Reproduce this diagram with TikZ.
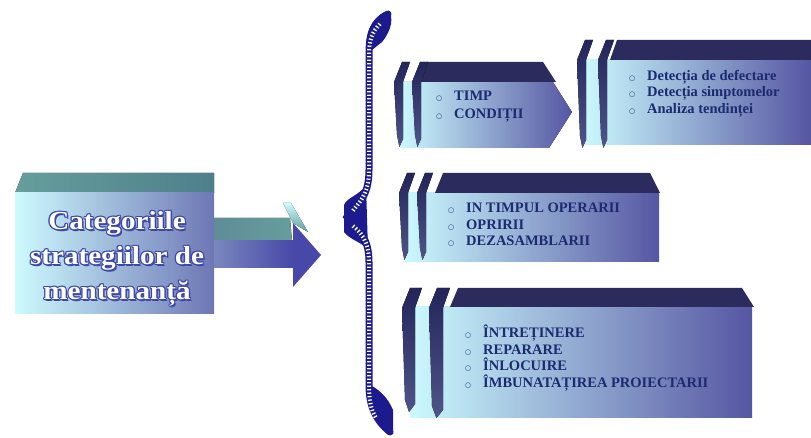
\documentclass[tikz,border=0pt]{standalone}
\usepackage{fontspec}
\setmainfont{Liberation Serif}
\newfontfamily\symfont{DejaVu Sans}
\newfontfamily\titlefont[FakeStretch=1.12]{Liberation Serif}
\definecolor{bandnavy}{HTML}{2B2B5E}
\definecolor{bartop}{HTML}{23255A}
\definecolor{barbot}{HTML}{4F5589}
\definecolor{faceL}{HTML}{CBFAFE}
\definecolor{faceM}{HTML}{98C2DC}
\definecolor{faceR}{HTML}{5656A2}
\definecolor{tealA}{HTML}{669E9C}
\definecolor{tealB}{HTML}{4E7F8C}
\definecolor{bracenavy}{HTML}{1B1B8E}
\definecolor{txtnavy}{HTML}{1C2A70}
\definecolor{outl}{HTML}{3D47AA}
\definecolor{headblue}{HTML}{4848A8}
% one decorative stroke: slanted head, stem tapering to a point
\newcommand\boxbar[4]{%
  \fill[top color=bartop,bottom color=barbot]
    (#1-3,#2+20) -- (#1+5,#2) -- (#1+#4+7,#2) -- (#1+#4,#2+20)
    -- (#1+#4,#3-8) -- (#1+0.4*#4,#3) -- (#1,#3-12) -- cycle;}
\newcommand\bul{\makebox[18pt][l]{\symfont\fontsize{7}{7}\selectfont ○}}
\begin{document}
\begin{tikzpicture}[x=1pt,y=-1pt,
  face/.style={left color=faceL,middle color=faceM,right color=faceR},
  band/.style={fill=bandnavy},
  titletext/.style={align=center,font=\titlefont\fontsize{26}{35}\selectfont\bfseries},
  itemtext/.style={anchor=north west,align=left,text=txtnavy,
    font=\fontsize{14.5}{16.5}\selectfont\bfseries,inner sep=0pt}]
\useasboundingbox[fill=white] (0,0) rectangle (811,438);

% ---- left 3D box ----
\fill[left color=tealA,right color=tealB] (23,173) -- (214,173) -- (214,193) -- (15,193) -- cycle;
\fill[left color=faceL!95!white,right color=faceR!80!faceL] (15,193) rectangle (214,313);
% ---- big arrow ----
\fill[left color=tealB!90!white,right color=tealA] (214,218) -- (290,218) -- (292,241) -- (214,241) -- cycle;
\fill[left color=faceR!70!faceL,right color=headblue] (214,241) rectangle (293,268);
\fill[top color=faceL,bottom color=tealA] (283,203) -- (291,203) -- (308,232) -- (293,223) -- cycle;
\fill[headblue] (293,223) -- (321,255) -- (293,287) -- cycle;
% ---- title: blue halo under white letters ----
\foreach \dx/\dy [count=\i] in {-1.1/0,1.1/0,0/-1.1,0/1.1,-0.8/-0.8,0.8/0.8,-0.8/0.8,0.8/-0.8,1.5/1.5}
  \node[titletext,text=outl] (titlehalo\i) at (117+\dx,259+\dy)
    {Categoriile\\strategiilor de\\mentenanță};
\node[titletext,text=white] (title) at (117,259)
  {Categoriile\\strategiilor de\\mentenanță};

% ---- curly brace ----
\fill[bracenavy] (388,11) .. controls (394,16) and (392,30) .. (382,42)
  -- (372,50) -- (366,48) .. controls (366,30) and (375,14) .. (388,11) -- cycle;
\fill[bracenavy] (366,185) .. controls (360,195) and (346,198) .. (344,205)
  -- (344,232) .. controls (350,240) and (362,242) .. (368,250) -- cycle;
\fill[bracenavy] (370,385) .. controls (380,390) and (388,398) .. (393,410)
  -- (393,434) .. controls (380,430) and (372,420) .. (370,400) -- cycle;
\draw[bracenavy,line width=7pt,line cap=round]
  (388,14) .. controls (372,22) and (369,35) .. (369,55) -- (369,170)
  .. controls (369,200) and (355,205) .. (347,217)
  .. controls (355,228) and (369,234) .. (369,262) -- (369,385)
  .. controls (369,405) and (375,420) .. (390,432);
\draw[white,line width=4pt,dash pattern=on 1.3pt off 2.2pt]
  (380,24) .. controls (372,32) and (369,40) .. (369,55) -- (369,170)
  .. controls (369,196) and (358,203) .. (352,212);
\draw[white,line width=4pt,dash pattern=on 1.3pt off 2.2pt]
  (353,226) .. controls (360,232) and (369,240) .. (369,262) -- (369,385)
  .. controls (369,400) and (371,410) .. (376,418);

% ---- box 1: TIMP / CONDITII ----
\fill[face] (400,82) -- (553,82) -- (572,112) -- (549,148) -- (400,148) -- cycle;
\fill[band] (420,82) -- (427,62) -- (543,62) -- (556,82) -- cycle;
\boxbar{397}{62}{147}{6}
\boxbar{415}{62}{147}{6}
\node[itemtext,font=\fontsize{14.5}{18}\selectfont\bfseries] (b1) at (436,91)
  {\bul TIMP\\\bul CONDIȚII};

% ---- box 2: detection methods ----
\fill[face] (583,60) rectangle (811,145);
\fill[band] (610,60) -- (617,40) -- (811,40) -- (811,60) -- cycle;
\boxbar{580}{40}{148}{6}
\boxbar{601}{40}{148}{6}
\node[itemtext] (b2) at (629,70)
  {\bul Detecția de defectare\\\bul Detecția simptomelor\\\bul Analiza tendinței};

% ---- box 3: moments ----
\fill[face] (405,193) -- (659,193) -- (659,262) -- (405,262) -- cycle;
\fill[band] (435,193) -- (443,173) -- (650,173) -- (660,193) -- cycle;
\boxbar{402}{173}{260}{6}
\boxbar{420}{173}{260}{6}
\node[itemtext] (b3) at (448,203)
  {\bul IN TIMPUL OPERARII\\\bul OPRIRII\\\bul DEZASAMBLARII};

% ---- box 4: actions ----
\fill[face] (410,307) -- (752,307) -- (752,417) -- (410,417) -- cycle;
\fill[band] (450,307) -- (458,288) -- (742,288) -- (754,307) -- cycle;
\boxbar{405}{288}{412}{10}
\boxbar{432}{288}{418}{11}
\node[itemtext] (b4) at (465,325)
  {\bul ÎNTREȚINERE\\\bul REPARARE\\\bul ÎNLOCUIRE\\\bul ÎMBUNATAȚIREA PROIECTARII};
\end{tikzpicture}
\end{document}
